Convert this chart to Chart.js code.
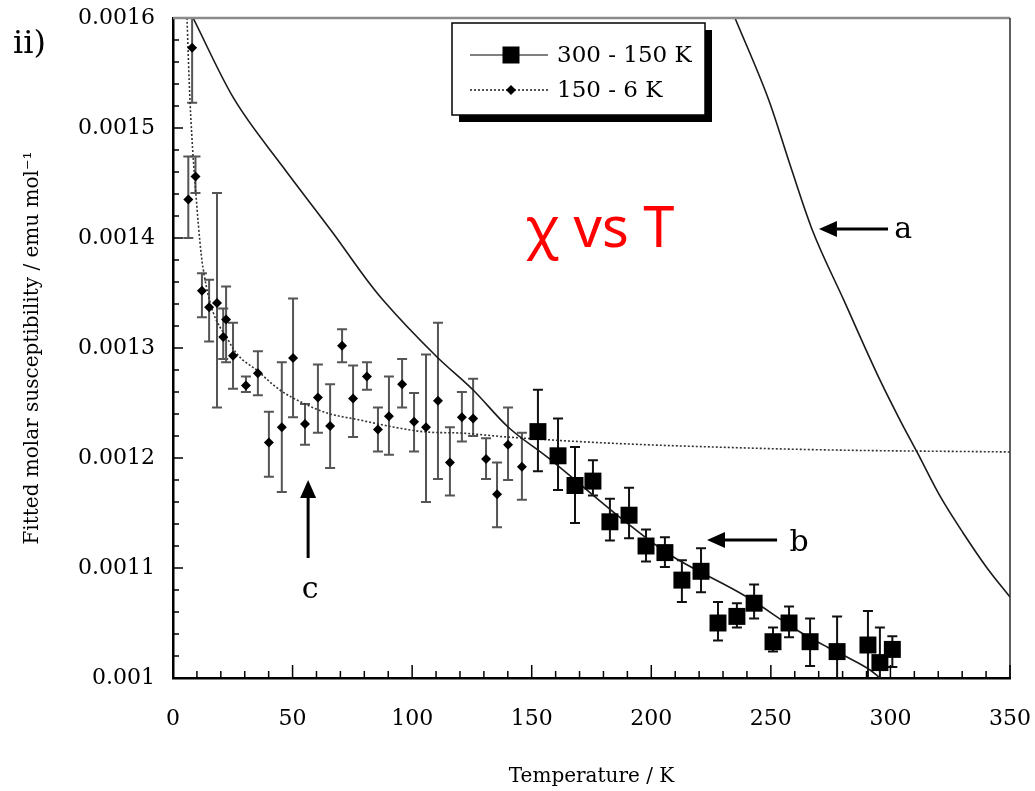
<!DOCTYPE html>
<html>
<head>
<meta charset="utf-8">
<script src="https://cdn.jsdelivr.net/npm/chart.js@4"></script>
<style>
  html, body { margin: 0; padding: 0; background: #ffffff; }
  canvas { display: block; }
</style>
</head>
<body>
<canvas id="chart" width="1035" height="791"></canvas>
<script>
// ---- Series: 300 - 150 K fit results (squares) ----
const squareLabel = '300 - 150 K';
const squareT    = [152.6, 161.0, 168.1, 175.6, 182.7, 190.7, 197.8, 205.7, 212.8, 220.8, 227.9, 235.8, 243.0, 250.9, 257.6, 266.4, 277.7, 290.6, 295.6, 300.8];
const squareChi  = [0.001224, 0.001202, 0.001175, 0.001179, 0.001142, 0.001148, 0.001120, 0.001114, 0.001089, 0.001097, 0.001050, 0.001056, 0.001068, 0.001033, 0.001050, 0.001033, 0.001024, 0.001030, 0.001014, 0.001026];
const squareLow  = [0.001188, 0.001171, 0.001141, 0.001166, 0.001125, 0.001127, 0.001106, 0.001101, 0.001069, 0.001078, 0.001034, 0.001046, 0.001054, 0.001024, 0.001037, 0.001011, 0.000998, 0.000998, 0.000995, 0.001010];
const squareHigh = [0.001262, 0.001236, 0.001210, 0.001198, 0.001163, 0.001173, 0.001135, 0.001128, 0.001107, 0.001118, 0.001069, 0.001068, 0.001085, 0.001046, 0.001065, 0.001054, 0.001056, 0.001061, 0.001046, 0.001038];

// ---- Series: 150 - 6 K fit results (diamonds) ----
const diamondLabel = '150 - 6 K';
const diamondT    = [6.4, 8.0, 9.4, 12.1, 15.1, 18.4, 21.0, 22.2, 25.1, 30.5, 35.5, 40.1, 45.5, 50.2, 55.2, 60.6, 65.7, 70.7, 75.3, 81.1, 85.7, 90.3, 95.8, 100.8, 105.8, 110.8, 115.8, 120.8, 125.5, 130.9, 135.5, 140.1, 145.9];
const diamondChi  = [0.001435, 0.001573, 0.001456, 0.001352, 0.001337, 0.001341, 0.001310, 0.001326, 0.001293, 0.001266, 0.001277, 0.001214, 0.001228, 0.001291, 0.001231, 0.001255, 0.001229, 0.001302, 0.001254, 0.001274, 0.001226, 0.001238, 0.001267, 0.001233, 0.001228, 0.001252, 0.001196, 0.001237, 0.001236, 0.001199, 0.001167, 0.001212, 0.001192];
const diamondLow  = [0.001400, 0.001523, 0.001441, 0.001328, 0.001306, 0.001246, 0.001290, 0.001287, 0.001263, 0.001260, 0.001257, 0.001183, 0.001169, 0.001237, 0.001212, 0.001223, 0.001191, 0.001287, 0.001219, 0.001262, 0.001206, 0.001203, 0.001246, 0.001206, 0.001160, 0.001181, 0.001166, 0.001215, 0.001220, 0.001181, 0.001137, 0.001180, 0.001162];
const diamondHigh = [0.001474, 0.001660, 0.001474, 0.001368, 0.001362, 0.001441, 0.001336, 0.001356, 0.001323, 0.001274, 0.001297, 0.001242, 0.001287, 0.001345, 0.001249, 0.001285, 0.001267, 0.001317, 0.001284, 0.001287, 0.001246, 0.001274, 0.001290, 0.001259, 0.001294, 0.001323, 0.001228, 0.001260, 0.001272, 0.001218, 0.001196, 0.001246, 0.001223];

// ---- Model curves a, b, c ----
const curveAT   = [235.0, 249.2, 258.4, 267.2, 280.6, 295.6, 304.0, 311.1, 320.7, 330.4, 340.4, 350.0];
const curveAChi = [0.001600, 0.001525, 0.001464, 0.001408, 0.001343, 0.001271, 0.0012345, 0.0012055, 0.0011655, 0.0011318, 0.0011, 0.0010736];
const curveBT   = [8.4, 25.1, 46.0, 66.9, 81.1, 87.8, 110.4, 125.5, 140.1, 156.4, 189.8, 206.6, 240.0, 262.2, 273.5, 281.8, 291.5, 295.6];
const curveBChi = [0.0016, 0.001528, 0.0014645, 0.0014045, 0.0013618, 0.0013436, 0.0012918, 0.0012618, 0.0012282, 0.001201, 0.001141, 0.0011136, 0.0010736, 0.0010418, 0.0010282, 0.0010191, 0.0010073, 0.001];
const curveCT   = [5.85, 7.1, 10.0, 12.5, 23.8, 36.4, 44.7, 54.4, 64.4, 78.2, 92.0, 106.2, 120.0, 139.7, 181.5, 240.0, 274.7, 350.0];
const curveCChi = [0.0016, 0.001525, 0.0014282, 0.0013736, 0.0013045, 0.0012773, 0.0012618, 0.00125, 0.0012409, 0.0012345, 0.0012282, 0.0012236, 0.0012227, 0.0012191, 0.0012136, 0.0012091, 0.0012073, 0.0012055];

// ---- Axes ----
const xTickValues = [0, 50, 100, 150, 200, 250, 300, 350];
const xTickLabels = ['0', '50', '100', '150', '200', '250', '300', '350'];
const yTickValues = [0.001, 0.0011, 0.0012, 0.0013, 0.0014, 0.0015, 0.0016];
const yTickLabels = ['0.001', '0.0011', '0.0012', '0.0013', '0.0014', '0.0015', '0.0016'];
const xMinorStep = 10, xMinorCount = 35;
const yMinorStep = 0.00002, yMinorCount = 30;

// ---- Annotation labels (data coordinates) ----
const arrowNames = ['a', 'b', 'c'];
const arrowTailT   = [299.0, 252.6, 56.5];
const arrowTailChi = [0.0014082, 0.0011255, 0.0011091];
const arrowTipT    = [270.1, 223.3, 56.5];
const arrowTipChi  = [0.0014082, 0.0011255, 0.00118];
const arrowTextT   = [305.3, 261.8, 57.3];
const arrowTextChi = [0.0014073, 0.0011227, 0.00108];

const serif = '"DejaVu Serif", "Liberation Serif", serif';

function pts(xs, ys) { return xs.map((x, i) => ({ x: x, y: ys[i] })); }

const errorSets = [
  { t: squareT, lo: squareLow, hi: squareHigh, color: '#111111', cap: 5, width: 2 },
  { t: diamondT, lo: diamondLow, hi: diamondHigh, color: '#555555', cap: 5, width: 2 }
];

const errorBarPlugin = {
  id: 'errorBars',
  beforeDatasetsDraw(chart) {
    const { ctx, chartArea: a } = chart;
    const xs = chart.scales.x, ys = chart.scales.y;
    ctx.save();
    ctx.beginPath();
    ctx.rect(a.left, a.top, a.right - a.left, a.bottom - a.top);
    ctx.clip();
    errorSets.forEach(s => {
      ctx.strokeStyle = s.color;
      ctx.lineWidth = s.width;
      s.t.forEach((t, i) => {
        const px = xs.getPixelForValue(t);
        const yl = ys.getPixelForValue(s.lo[i]);
        const yh = ys.getPixelForValue(s.hi[i]);
        ctx.beginPath();
        ctx.moveTo(px, yl); ctx.lineTo(px, yh);
        ctx.moveTo(px - s.cap, yl); ctx.lineTo(px + s.cap, yl);
        ctx.moveTo(px - s.cap, yh); ctx.lineTo(px + s.cap, yh);
        ctx.stroke();
      });
    });
    ctx.restore();
  }
};

function drawArrow(ctx, x1, y1, x2, y2) {
  const ang = Math.atan2(y2 - y1, x2 - x1);
  const hl = 18, hw = 8;
  const bx = x2 - hl * Math.cos(ang), by = y2 - hl * Math.sin(ang);
  ctx.strokeStyle = '#000'; ctx.fillStyle = '#000'; ctx.lineWidth = 3;
  ctx.beginPath(); ctx.moveTo(x1, y1); ctx.lineTo(bx, by); ctx.stroke();
  ctx.beginPath();
  ctx.moveTo(x2, y2);
  ctx.lineTo(bx + hw * Math.sin(ang), by - hw * Math.cos(ang));
  ctx.lineTo(bx - hw * Math.sin(ang), by + hw * Math.cos(ang));
  ctx.closePath(); ctx.fill();
}

const decorPlugin = {
  id: 'decor',
  afterDraw(chart) {
    const { ctx, chartArea: a } = chart;
    const xs = chart.scales.x, ys = chart.scales.y;
    ctx.save();

    // top and right frame lines
    ctx.strokeStyle = '#8a8a8a'; ctx.lineWidth = 2.5;
    ctx.beginPath(); ctx.moveTo(a.left, a.top); ctx.lineTo(a.right, a.top); ctx.stroke();
    ctx.strokeStyle = '#2a2a2a'; ctx.lineWidth = 1.5;
    ctx.beginPath(); ctx.moveTo(a.right, a.top); ctx.lineTo(a.right, a.bottom); ctx.stroke();

    // inward tick marks
    ctx.strokeStyle = '#000'; ctx.lineWidth = 1.5;
    for (let i = 1; i <= xMinorCount; i++) {
      const px = xs.getPixelForValue(i * xMinorStep);
      const len = (i % 5 === 0) ? 13 : 7;
      ctx.beginPath(); ctx.moveTo(px, a.bottom); ctx.lineTo(px, a.bottom - len); ctx.stroke();
    }
    for (let i = 1; i < yMinorCount; i++) {
      const py = ys.getPixelForValue(yTickValues[0] + i * yMinorStep);
      const len = (i % 5 === 0) ? 10 : 6;
      ctx.beginPath(); ctx.moveTo(a.left, py); ctx.lineTo(a.left + len, py); ctx.stroke();
    }

    // arrows with letters
    ctx.font = '30px ' + serif;
    ctx.textAlign = 'center'; ctx.textBaseline = 'middle';
    arrowNames.forEach((n, i) => {
      drawArrow(ctx,
        xs.getPixelForValue(arrowTailT[i]), ys.getPixelForValue(arrowTailChi[i]),
        xs.getPixelForValue(arrowTipT[i]), ys.getPixelForValue(arrowTipChi[i]));
      ctx.fillStyle = '#000';
      ctx.fillText(n, xs.getPixelForValue(arrowTextT[i]), ys.getPixelForValue(arrowTextChi[i]));
    });

    // legend box with drop shadow
    const lx = 452, ly = 23, lw = 253, lh = 92;
    ctx.fillStyle = '#000';
    ctx.fillRect(lx + 7, ly + 7, lw, lh);
    ctx.fillStyle = '#fff';
    ctx.fillRect(lx, ly, lw, lh);
    ctx.strokeStyle = '#000'; ctx.lineWidth = 1.5;
    ctx.strokeRect(lx, ly, lw, lh);

    const ds = chart.data.datasets;
    // row 1: squares
    ctx.strokeStyle = '#808080'; ctx.lineWidth = 2; ctx.setLineDash([]);
    ctx.beginPath(); ctx.moveTo(470, 55); ctx.lineTo(548, 55); ctx.stroke();
    ctx.fillStyle = '#000'; ctx.fillRect(511 - 8.5, 55 - 8.5, 17, 17);
    // row 2: diamonds
    ctx.strokeStyle = '#555'; ctx.setLineDash([2, 2]);
    ctx.beginPath(); ctx.moveTo(470, 90); ctx.lineTo(548, 90); ctx.stroke();
    ctx.setLineDash([]);
    ctx.beginPath();
    ctx.moveTo(511, 85); ctx.lineTo(516, 90); ctx.lineTo(511, 95); ctx.lineTo(506, 90); ctx.closePath();
    ctx.fill();
    ctx.font = '23px ' + serif;
    ctx.textAlign = 'left'; ctx.textBaseline = 'middle';
    ctx.fillText(ds[0].label, 557, 56);
    ctx.fillText(ds[1].label, 557, 91);

    // panel label
    ctx.font = '32px ' + serif;
    ctx.textAlign = 'left'; ctx.textBaseline = 'alphabetic';
    ctx.fillText('ii)', 13, 53);

    // red caption
    ctx.fillStyle = '#ff0000';
    ctx.font = '56px "Noto Sans", "Open Sans", sans-serif';
    ctx.textAlign = 'center';
    ctx.fillText('\u03c7 vs T', 600, 247);

    ctx.restore();
  }
};

new Chart(document.getElementById('chart'), {
  type: 'scatter',
  data: {
    datasets: [
      { label: squareLabel, data: pts(squareT, squareChi), showLine: false,
        pointStyle: 'rect', pointRadius: 12, pointBackgroundColor: '#000', pointBorderWidth: 0 },
      { label: diamondLabel, data: pts(diamondT, diamondChi), showLine: false,
        pointStyle: 'rectRot', pointRadius: 5, pointBackgroundColor: '#000', pointBorderWidth: 0 },
      { label: 'a', data: pts(curveAT, curveAChi), showLine: true, pointRadius: 0,
        borderColor: '#1a1a1a', borderWidth: 1.6, cubicInterpolationMode: 'monotone' },
      { label: 'b', data: pts(curveBT, curveBChi), showLine: true, pointRadius: 0,
        borderColor: '#1a1a1a', borderWidth: 1.6, cubicInterpolationMode: 'monotone' },
      { label: 'c', data: pts(curveCT, curveCChi), showLine: true, pointRadius: 0,
        borderColor: '#333', borderWidth: 1.6, borderDash: [2, 2], cubicInterpolationMode: 'monotone' }
    ]
  },
  options: {
    responsive: false,
    animation: false,
    devicePixelRatio: 1,
    layout: { padding: 0 },
    plugins: { legend: { display: false }, tooltip: { enabled: false } },
    scales: {
      x: {
        type: 'linear', min: 0, max: 350,
        afterFit(s) { s.height = 113; s.paddingLeft = 0; s.paddingRight = 25; },
        afterBuildTicks(s) { s.ticks = xTickValues.map(v => ({ value: v })); },
        ticks: {
          autoSkip: false, padding: 28, color: '#000',
          font: { family: serif, size: 22 },
          callback: (v, i) => xTickLabels[i]
        },
        grid: { display: false, drawTicks: false },
        border: { display: true, color: '#000', width: 2.5 },
        title: { display: true, text: 'Temperature / K', color: '#000',
          font: { family: serif, size: 20 }, padding: { top: 0, bottom: 2 } }
      },
      y: {
        type: 'linear', min: 0.001, max: 0.0016,
        afterFit(s) { s.width = 173; s.paddingTop = 18; s.paddingBottom = 0; },
        afterBuildTicks(s) { s.ticks = yTickValues.map(v => ({ value: v })); },
        ticks: {
          autoSkip: false, padding: 18, color: '#000',
          font: { family: serif, size: 22 },
          callback: (v, i) => yTickLabels[i]
        },
        grid: { display: false, drawTicks: false },
        border: { display: true, color: '#000', width: 2.5 },
        title: { display: true, text: 'Fitted molar susceptibility / emu mol\u207b\u00b9', color: '#000',
          font: { family: serif, size: 20 }, padding: { top: 21, bottom: 0 } }
      }
    }
  },
  plugins: [errorBarPlugin, decorPlugin]
});
</script>
</body>
</html>
